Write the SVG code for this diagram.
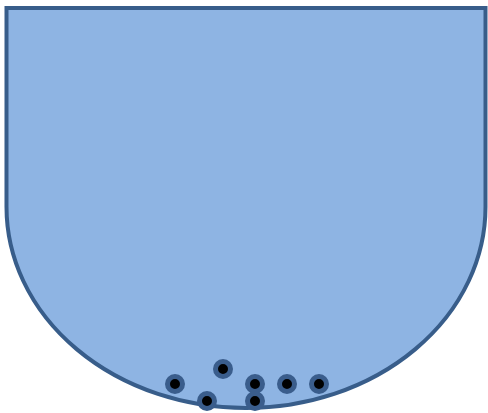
<svg xmlns="http://www.w3.org/2000/svg" width="488" height="413" viewBox="0 0 488 413">
<style>
.dot{fill:#000;stroke:#3a5d8c;stroke-width:5}
</style>
<g id="vessel">
<path d="M6.5,8 H485.5 V207 A239.5,201 0 0 1 6.5,207 Z" fill="#8eb4e3" stroke="#385d8a" stroke-width="4"/>
</g>
<g id="particles">
<circle class="dot" cx="175" cy="384" r="7.5"/>
<circle class="dot" cx="223" cy="369" r="7.5"/>
<circle class="dot" cx="255" cy="384" r="7.5"/>
<circle class="dot" cx="287" cy="384" r="7.5"/>
<circle class="dot" cx="319" cy="384" r="7.5"/>
<circle class="dot" cx="207" cy="401" r="7.5"/>
<circle class="dot" cx="255" cy="401" r="7.5"/>
</g>
</svg>
